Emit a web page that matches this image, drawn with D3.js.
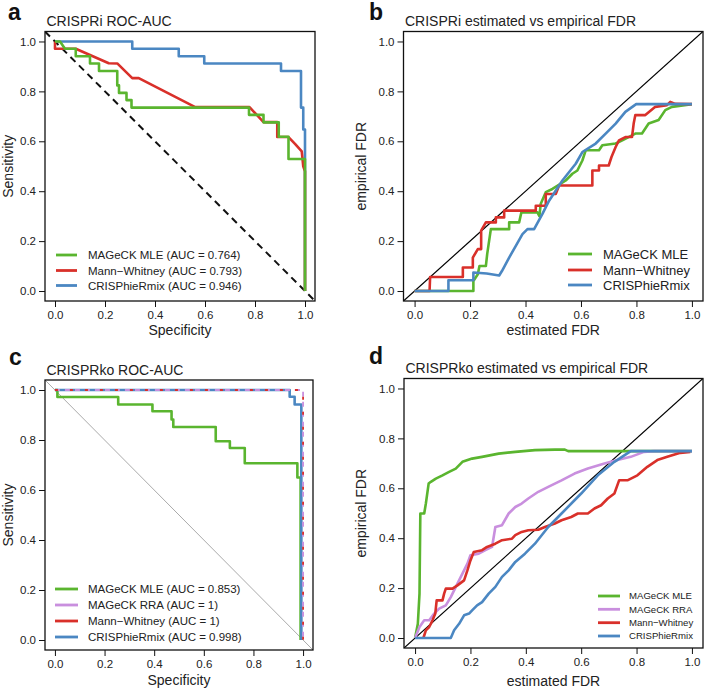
<!DOCTYPE html>
<html><head><meta charset="utf-8">
<script src="https://cdn.jsdelivr.net/npm/d3@7"></script>
<style>
body{margin:0;background:#fff}
svg{display:block}
text{font-family:"Liberation Sans",Arial,Helvetica,sans-serif}
</style>
</head><body>
<svg id="chart" width="707" height="689"></svg>
<script>
// ---------- data ----------
const tickValues = [0, 0.2, 0.4, 0.6, 0.8, 1.0];

const methodNames = ["MAGeCK MLE", "MAGeCK RRA", "Mann\u2212Whitney", "CRISPhieRmix"];
const aucA = ["0.764", "0.793", "0.946"];            // MLE, Mann-Whitney, CRISPhieRmix
const aucC = ["0.853", "1", "1", "0.998"];           // MLE, RRA, Mann-Whitney, CRISPhieRmix

// Panel a: CRISPRi ROC  [specificity, sensitivity]
const aMLE = [[0,1],[0.02,1],[0.04,0.971],[0.083,0.971],[0.083,0.941],[0.14,0.941],[0.14,0.912],[0.176,0.912],[0.176,0.882],[0.249,0.882],[0.249,0.824],[0.256,0.824],[0.256,0.794],[0.286,0.794],[0.286,0.765],[0.306,0.765],[0.306,0.735],[0.776,0.735],[0.776,0.706],[0.834,0.706],[0.834,0.676],[0.895,0.676],[0.895,0.618],[0.934,0.618],[0.934,0.529],[1,0.529],[1,0]];
const aMannWhitney = [[0,1],[0,0.971],[0.083,0.971],[0.215,0.913],[0.249,0.912],[0.309,0.853],[0.335,0.853],[0.561,0.737],[0.778,0.737],[0.834,0.677],[0.889,0.677],[0.889,0.617],[0.934,0.617],[0.96,0.59],[0.987,0.56],[0.993,0.5],[1,0.48],[1,0]];
const aCRISPhieRmix = [[0,1],[0.309,1],[0.309,0.971],[0.495,0.971],[0.495,0.941],[0.597,0.941],[0.597,0.912],[0.904,0.912],[0.904,0.882],[0.984,0.882],[0.984,0.735],[0.993,0.735],[0.993,0.647],[1,0.647],[1,0.529],[1,0]];

// Panel b: CRISPRi estimated vs empirical FDR
const bMLE = [[0,0],[0.212,0],[0.212,0.04],[0.228,0.067],[0.234,0.1],[0.257,0.1],[0.262,0.15],[0.275,0.248],[0.341,0.248],[0.341,0.275],[0.377,0.275],[0.385,0.315],[0.443,0.315],[0.45,0.3],[0.455,0.35],[0.473,0.396],[0.497,0.409],[0.545,0.443],[0.569,0.47],[0.587,0.483],[0.605,0.523],[0.617,0.564],[0.665,0.564],[0.677,0.584],[0.725,0.591],[0.749,0.604],[0.796,0.631],[0.82,0.631],[0.844,0.671],[0.88,0.685],[0.904,0.725],[0.928,0.738],[1,0.749]];
const bMannWhitney = [[0,0],[0.054,0],[0.056,0.056],[0.174,0.056],[0.174,0.094],[0.21,0.094],[0.21,0.134],[0.228,0.168],[0.24,0.168],[0.24,0.242],[0.257,0.275],[0.293,0.275],[0.293,0.295],[0.323,0.295],[0.323,0.322],[0.437,0.322],[0.437,0.342],[0.473,0.342],[0.473,0.389],[0.509,0.389],[0.521,0.423],[0.641,0.423],[0.641,0.483],[0.665,0.483],[0.665,0.503],[0.7,0.503],[0.71,0.537],[0.725,0.577],[0.737,0.604],[0.76,0.617],[0.784,0.617],[0.79,0.671],[0.796,0.705],[0.832,0.705],[0.868,0.738],[0.91,0.745],[0.922,0.758],[0.94,0.75],[1,0.749]];
const bCRISPhieRmix = [[0,0],[0.122,0],[0.122,0.043],[0.212,0.043],[0.212,0.074],[0.26,0.07],[0.305,0.062],[0.315,0.08],[0.341,0.134],[0.365,0.181],[0.389,0.228],[0.407,0.248],[0.431,0.248],[0.461,0.309],[0.485,0.362],[0.533,0.443],[0.581,0.51],[0.605,0.557],[0.653,0.591],[0.689,0.631],[0.725,0.671],[0.76,0.718],[0.799,0.749],[1,0.749]];

// Panel c: CRISPRko ROC
const cMLE = [[0,1],[0.01,1],[0.01,0.972],[0.255,0.972],[0.255,0.942],[0.393,0.942],[0.393,0.915],[0.47,0.915],[0.47,0.882],[0.477,0.882],[0.477,0.852],[0.648,0.852],[0.648,0.795],[0.705,0.795],[0.705,0.768],[0.765,0.768],[0.765,0.707],[0.977,0.707],[0.977,0.65],[0.99,0.65],[0.99,0]];
const cRRA = [[0,1],[1,1],[1,0]];
const cMannWhitney = [[0,1],[1,1],[1,0]];
const cCRISPhieRmix = [[0,1],[0.946,1],[0.946,0.973],[0.966,0.973],[0.966,0.942],[0.993,0.942],[0.993,0]];

// Panel d: CRISPRko estimated vs empirical FDR
const dMLE = [[0,0],[0.01,0.057],[0.016,0.178],[0.019,0.499],[0.033,0.499],[0.039,0.539],[0.049,0.619],[0.057,0.626],[0.075,0.639],[0.099,0.652],[0.123,0.666],[0.147,0.679],[0.171,0.706],[0.206,0.719],[0.242,0.726],[0.302,0.739],[0.362,0.746],[0.433,0.753],[0.505,0.755],[0.541,0.755],[0.553,0.749],[1,0.749]];
const dRRA = [[0,0],[0.016,0.044],[0.033,0.071],[0.051,0.071],[0.069,0.098],[0.087,0.118],[0.111,0.131],[0.129,0.164],[0.153,0.218],[0.171,0.258],[0.189,0.298],[0.2,0.332],[0.23,0.338],[0.254,0.352],[0.278,0.365],[0.29,0.445],[0.314,0.452],[0.338,0.499],[0.362,0.525],[0.385,0.539],[0.409,0.559],[0.445,0.586],[0.481,0.606],[0.529,0.632],[0.576,0.659],[0.624,0.679],[0.684,0.699],[0.731,0.713],[0.779,0.726],[0.827,0.746],[0.863,0.749],[1,0.749]];
const dMannWhitney = [[0.03,0],[0.039,0.031],[0.051,0.044],[0.063,0.071],[0.073,0.098],[0.078,0.151],[0.099,0.151],[0.105,0.178],[0.111,0.198],[0.135,0.198],[0.153,0.211],[0.177,0.231],[0.189,0.271],[0.2,0.311],[0.212,0.345],[0.242,0.352],[0.26,0.365],[0.29,0.378],[0.314,0.392],[0.35,0.398],[0.362,0.412],[0.385,0.425],[0.409,0.432],[0.445,0.434],[0.469,0.445],[0.505,0.459],[0.529,0.472],[0.564,0.485],[0.588,0.499],[0.624,0.499],[0.648,0.519],[0.672,0.532],[0.696,0.559],[0.72,0.579],[0.737,0.632],[0.767,0.632],[0.803,0.652],[0.839,0.686],[0.875,0.713],[0.911,0.726],[0.958,0.742],[0.994,0.746]];
const dCRISPhieRmix = [[0,0],[0.129,0],[0.141,0.031],[0.159,0.057],[0.177,0.091],[0.195,0.098],[0.206,0.111],[0.224,0.131],[0.242,0.144],[0.266,0.178],[0.29,0.205],[0.314,0.245],[0.338,0.271],[0.362,0.305],[0.397,0.338],[0.433,0.378],[0.481,0.445],[0.529,0.499],[0.6,0.579],[0.66,0.652],[0.72,0.706],[0.779,0.749],[1,0.749]];

// ---------- style ----------
const COL = {mle:"#5ab52f", rra:"#c98fde", mw:"#d9302a", hier:"#4b87c2"};
const FONT = "Liberation Sans, Arial, Helvetica, sans-serif";

const panels = [
  {letter:"a", letterPos:[8,20], title:"CRISPRi ROC-AUC", xlab:"Specificity", ylab:"Sensitivity",
   box:{l:45,t:31.5,r:315,b:301}, ref:"roc", refStyle:{stroke:"#111", width:2, dash:"7,5"},
   series:[
     {data:aCRISPhieRmix, color:COL.hier},
     {data:aMannWhitney, color:COL.mw},
     {data:aMLE, color:COL.mle}],
   legend:{x1:56,x2:77,tx:88,ys:[255,270.5,285.5],size:11.5,
     items:[[methodNames[0]+" (AUC = "+aucA[0]+")",COL.mle],[methodNames[2]+" (AUC = "+aucA[1]+")",COL.mw],[methodNames[3]+" (AUC = "+aucA[2]+")",COL.hier]]},
   xlabY:335, ylabX:13},
  {letter:"b", letterPos:[369,20], title:"CRISPRi estimated vs empirical FDR", xlab:"estimated FDR", ylab:"empirical FDR",
   box:{l:403.5,t:31.5,r:703,b:301}, ref:"fdr", refStyle:{stroke:"#000", width:1.2, dash:null},
   series:[
     {data:bMLE, color:COL.mle},
     {data:bMannWhitney, color:COL.mw},
     {data:bCRISPhieRmix, color:COL.hier}],
   legend:{x1:568,x2:592,tx:603,ys:[254,270,285],size:13,
     items:[[methodNames[0],COL.mle],[methodNames[2],COL.mw],[methodNames[3],COL.hier]]},
   xlabY:335, ylabX:366},
  {letter:"c", letterPos:[9,365], title:"CRISPRko ROC-AUC", xlab:"Specificity", ylab:"Sensitivity",
   box:{l:45,t:380,r:313,b:650}, ref:"roc", refStyle:{stroke:"#aaa", width:1, dash:null},
   series:[
     {data:cMLE, color:COL.mle},
     {data:cCRISPhieRmix, color:COL.hier},
     {data:cRRA, color:COL.rra, dash:"5,5", width:1.8},
     {data:cMannWhitney, color:COL.mw, dash:"3,12", width:1.8}],
   legend:{x1:55,x2:78,tx:88,ys:[589,605,621,637],size:11.5,
     items:[[methodNames[0]+" (AUC = "+aucC[0]+")",COL.mle],[methodNames[1]+" (AUC = "+aucC[1]+")",COL.rra],[methodNames[2]+" (AUC = "+aucC[2]+")",COL.mw],[methodNames[3]+" (AUC = "+aucC[3]+")",COL.hier]]},
   xlabY:685, ylabX:13},
  {letter:"d", letterPos:[369,364], title:"CRISPRko estimated vs empirical FDR", xlab:"estimated FDR", ylab:"empirical FDR",
   box:{l:404,t:378.5,r:703,b:648}, ref:"fdr", refStyle:{stroke:"#000", width:1.2, dash:null},
   series:[
     {data:dMLE, color:COL.mle},
     {data:dRRA, color:COL.rra},
     {data:dMannWhitney, color:COL.mw},
     {data:dCRISPhieRmix, color:COL.hier}],
   legend:{x1:598,x2:620,tx:629,ys:[596,609.3,622.7,636],size:9.6,
     items:[[methodNames[0],COL.mle],[methodNames[1],COL.rra],[methodNames[2],COL.mw],[methodNames[3],COL.hier]]},
   xlabY:686, ylabX:366}
];

// ---------- draw ----------
const svg = d3.select("#chart");
svg.append("rect").attr("width",707).attr("height",689).attr("fill","#fff");

panels.forEach(p => {
  const g = svg.append("g");
  const x = d3.scaleLinear().domain([-0.04, 1.04]).range([p.box.l, p.box.r]);
  const y = d3.scaleLinear().domain([-0.04, 1.04]).range([p.box.b, p.box.t]);
  const clipId = "clip-" + p.letter;
  g.append("clipPath").attr("id", clipId).append("rect")
    .attr("x", p.box.l).attr("y", p.box.t).attr("width", p.box.r - p.box.l).attr("height", p.box.b - p.box.t);

  const plot = g.append("g").attr("clip-path", `url(#${clipId})`);
  const refPts = p.ref === "roc" ? [[-0.04,1.04],[1.04,-0.04]] : [[-0.04,-0.04],[1.04,1.04]];
  plot.append("line")
    .attr("x1", x(refPts[0][0])).attr("y1", y(refPts[0][1]))
    .attr("x2", x(refPts[1][0])).attr("y2", y(refPts[1][1]))
    .attr("stroke", p.refStyle.stroke).attr("stroke-width", p.refStyle.width)
    .attr("stroke-dasharray", p.refStyle.dash);

  const line = d3.line().x(d => x(d[0])).y(d => y(d[1]));
  p.series.forEach(s => {
    plot.append("path").attr("d", line(s.data)).attr("fill","none")
      .attr("stroke", s.color).attr("stroke-width", s.width || 2.6)
      .attr("stroke-linejoin","round").attr("stroke-linecap","butt")
      .attr("stroke-dasharray", s.dash || null);
  });

  const xAxis = d3.axisBottom(x).tickValues(tickValues).tickFormat(d3.format(".1f")).tickSize(6).tickPadding(4);
  const yAxis = d3.axisLeft(y).tickValues(tickValues).tickFormat(d3.format(".1f")).tickSize(6).tickPadding(3);
  const gx = g.append("g").attr("transform", `translate(0,${p.box.b})`).call(xAxis);
  const gy = g.append("g").attr("transform", `translate(${p.box.l},0)`).call(yAxis);
  [gx, gy].forEach(ax => {
    ax.select(".domain").remove();
    ax.selectAll(".tick line").attr("stroke","#111").attr("stroke-width",1);
    ax.selectAll(".tick text").attr("fill","#222").attr("font-size",11.5).attr("font-family",FONT);
  });

  g.append("rect").attr("x", p.box.l).attr("y", p.box.t)
    .attr("width", p.box.r - p.box.l).attr("height", p.box.b - p.box.t)
    .attr("fill","none").attr("stroke","#111").attr("stroke-width",1.3);

  const L = p.legend;
  L.items.forEach((it, i) => {
    g.append("line").attr("x1", L.x1).attr("x2", L.x2).attr("y1", L.ys[i]).attr("y2", L.ys[i])
      .attr("stroke", it[1]).attr("stroke-width", 2.8);
    g.append("text").attr("x", L.tx).attr("y", L.ys[i]).attr("dy","0.35em")
      .attr("font-size", L.size).attr("fill","#222").text(it[0]);
  });

  g.append("text").attr("x", p.box.l + 1.5).attr("y", p.box.t - 5.5)
    .attr("font-size", 14).attr("fill","#222").text(p.title);
  g.append("text").attr("x", (p.box.l + p.box.r) / 2).attr("y", p.xlabY)
    .attr("text-anchor","middle").attr("font-size", 14).attr("fill","#222").text(p.xlab);
  g.append("text").attr("transform", `translate(${p.ylabX},${(p.box.t + p.box.b) / 2}) rotate(-90)`)
    .attr("text-anchor","middle").attr("font-size", 14).attr("fill","#222").text(p.ylab);
  g.append("text").attr("x", p.letterPos[0]).attr("y", p.letterPos[1])
    .attr("font-size", 23).attr("font-weight","bold").attr("fill","#111").text(p.letter);
});
</script>
</body></html>
